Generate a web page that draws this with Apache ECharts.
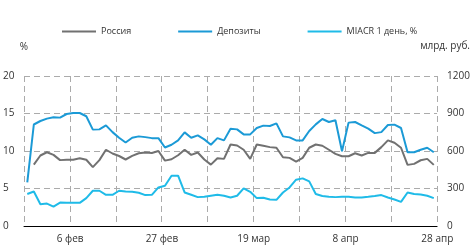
<!DOCTYPE html>
<html>
<head>
<meta charset="utf-8">
<script src="https://cdn.jsdelivr.net/npm/echarts@6/dist/echarts.min.js"></script>
<style>
  html, body { margin: 0; padding: 0; background: #fff; }
  #myChart { width: 473px; height: 246px; }
</style>
</head>
<body>
<div id="myChart"></div>
<script>
// подписи оси X (ставятся по индексам категорий)
const tickLabels = ["6 фев", "27 фев", "19 мар", "8 апр", "28 апр"];
const tickIndex = [6, 20, 34, 48, 62];

// Россия, млрд. руб.
const russiaData = [null, 491, 564, 590, 569, 527, 530, 530, 542, 530,
  471, 527, 610, 580, 560, 532, 561, 582, 588, 584,
  600, 523, 534, 566, 610, 569, 588, 532, 491, 542,
  537, 652, 644, 610, 537, 652, 642, 631, 626, 550,
  545, 515, 545, 626, 652, 642, 610, 577, 558, 558,
  582, 564, 585, 585, 631, 685, 666, 626, 489, 497,
  526, 537, 489];

// Депозиты, млрд. руб.
const depositData = [349, 812, 840, 859, 870, 867, 896, 904, 904, 878,
  771, 773, 805, 751, 706, 668, 706, 717, 711, 703,
  703, 628, 650, 685, 749, 706, 725, 693, 650, 703,
  685, 778, 773, 733, 733, 784, 803, 800, 821, 717,
  709, 685, 685, 760, 813, 856, 832, 846, 598, 827,
  832, 805, 779, 743, 751, 808, 811, 784, 590, 590,
  610, 626, 590];

// MIACR 1 день, %
const miacrData = [4.26, 4.60, 2.91, 2.99, 2.59, 3.13, 3.09, 3.09, 3.09, 3.72,
  4.70, 4.70, 4.16, 4.16, 4.70, 4.60, 4.56, 4.43, 4.12, 4.16,
  5.14, 5.37, 6.71, 6.71, 4.47, 4.16, 3.85, 3.89, 4.03, 4.16,
  4.03, 3.80, 4.03, 5.01, 4.56, 3.72, 3.76, 3.53, 3.49, 4.47,
  5.14, 6.17, 6.35, 5.95, 4.26, 3.99, 3.89, 3.85, 3.89, 3.89,
  3.80, 3.80, 3.89, 3.99, 4.12, 3.80, 3.53, 3.22, 4.47, 4.26,
  4.20, 4.03, 3.72];

const categories = depositData.map((v, i) => {
  const k = tickIndex.indexOf(i);
  return k >= 0 ? tickLabels[k] : "d" + i;
});

const fontName = "'Open Sans', sans-serif";
const gridLine = { show: true, lineStyle: { color: "#ababab", type: [6, 4], width: 1 } };

let myChart = echarts.init(document.getElementById("myChart"));
myChart.setOption({
  animation: false,
  textStyle: { fontFamily: fontName },
  legend: {
    left: 57,
    top: 22,
    itemWidth: 34,
    itemHeight: 2,
    itemGap: 47,
    icon: "rect",
    textStyle: { fontSize: 9, color: "#333", fontFamily: fontName },
    data: ["Россия", "Депозиты", "MIACR 1 день, %"]
  },
  grid: { left: 23, right: 32, top: 76, bottom: 20, containLabel: false },
  xAxis: {
    type: "category",
    boundaryGap: true,
    data: categories,
    axisLine: { lineStyle: { color: "#000", width: 1 } },
    axisTick: { interval: (i) => i % 7 === 0, length: 4, lineStyle: { color: "#000" } },
    splitLine: Object.assign({ interval: (i) => i % 7 === 0 }, gridLine),
    axisLabel: {
      interval: (i) => tickIndex.indexOf(i) >= 0,
      formatter: (v, i) => {
        const k = tickIndex.indexOf(i);
        return k >= 0 ? tickLabels[k] : "";
      },
      padding: [0, 0, 0, 7],
      margin: 8,
      fontSize: 10,
      color: "#333"
    }
  },
  yAxis: [
    {
      type: "value",
      min: 0,
      max: 20,
      interval: 5,
      name: "%",
      nameGap: 24,
      nameTextStyle: { fontSize: 10, color: "#333" },
      axisLine: { show: false },
      axisTick: { show: false },
      splitLine: gridLine,
      axisLabel: { align: "left", margin: 21, fontSize: 10, color: "#333" }
    },
    {
      type: "value",
      min: 0,
      max: 1200,
      interval: 300,
      name: "млрд. руб.",
      nameGap: 25,
      nameTextStyle: { fontSize: 10, color: "#333", align: "center", padding: [0, 0, 0, 16] },
      axisLine: { show: false },
      axisTick: { show: false },
      splitLine: { show: false },
      axisLabel: { align: "left", margin: 10, fontSize: 10, color: "#333", formatter: (v) => String(v) }
    }
  ],
  series: [
    {
      name: "Россия",
      type: "line",
      yAxisIndex: 1,
      data: russiaData,
      symbol: "none",
      itemStyle: { color: "#717171" },
      lineStyle: { color: "#717171", width: 2 }
    },
    {
      name: "Депозиты",
      type: "line",
      yAxisIndex: 1,
      data: depositData,
      symbol: "none",
      itemStyle: { color: "#1b9ad6" },
      lineStyle: { color: "#1b9ad6", width: 2 }
    },
    {
      name: "MIACR 1 день, %",
      type: "line",
      yAxisIndex: 0,
      data: miacrData,
      symbol: "none",
      itemStyle: { color: "#1fbbe8" },
      lineStyle: { color: "#1fbbe8", width: 2 }
    }
  ]
});
</script>
</body>
</html>
